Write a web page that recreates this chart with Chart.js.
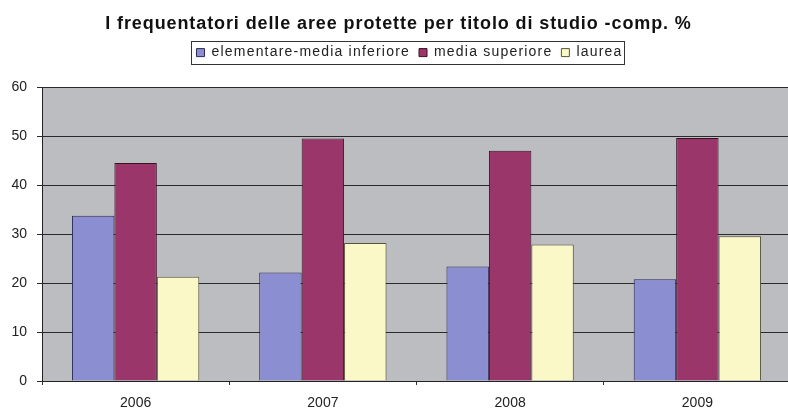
<!DOCTYPE html>
<html>
<head>
<meta charset="utf-8">
<script src="https://cdn.jsdelivr.net/npm/chart.js@4"></script>
<style>
  html, body { margin: 0; padding: 0; background: #fff; overflow: hidden; }
  #wrap { width: 792px; height: 411px; position: relative; }
</style>
</head>
<body>
<div id="wrap"><canvas id="chart"></canvas></div>
<script>
// data
const years = ['2006', '2007', '2008', '2009'];
const elementareMedia = [33.8, 22.2, 23.4, 20.8];
const mediaSuperiore = [44.6, 49.6, 47.1, 49.7];
const laurea = [21.3, 28.2, 27.9, 29.6];
const yTicks = [0, 10, 20, 30, 40, 50, 60];

const FONT = 'Arial, "Liberation Sans", sans-serif';
const LEGEND_SHIFT = 14; // legend sits a bit right of centre in the original

// run a box method with some letter spacing on the canvas
function spaced(box, name, spacing, shift) {
    const orig = box[name];
    box[name] = function () {
        const ctx = this.ctx || this.chart.ctx;
        const prev = ctx.letterSpacing;
        ctx.letterSpacing = spacing;
        if (shift) { ctx.save(); ctx.translate(shift, 0); }
        const res = orig.apply(this, arguments);
        if (shift) ctx.restore();
        ctx.letterSpacing = prev;
        return res;
    };
}

// grey plot background
const plotBg = {
    id: 'plotBg',
    beforeDraw(chart) {
        const { ctx, chartArea } = chart;
        ctx.save();
        ctx.fillStyle = '#bcbdc0';
        ctx.fillRect(chartArea.left, chartArea.top, chartArea.right - chartArea.left, chartArea.bottom - chartArea.top);
        ctx.restore();
    }
};

// wider text, extra room under the legend + frame around it
const legendTweak = {
    id: 'legendTweak',
    beforeInit(chart) {
        chart.ctx.letterSpacing = '1.5px';
        const origFit = chart.legend.fit;
        chart.legend.fit = function () {
            origFit.call(this);
            this.height += 18;
        };
        spaced(chart.legend, 'fit', '1.2px');
        spaced(chart.legend, 'draw', '1.2px', LEGEND_SHIFT);
        spaced(chart.titleBlock, 'draw', '0.9px', 3);
    },
    afterDraw(chart) {
        const boxes = chart.legend.legendHitBoxes;
        if (!boxes || !boxes.length) return;
        let l = Infinity, r = -Infinity, t = Infinity, b = -Infinity;
        boxes.forEach(h => {
            l = Math.min(l, h.left); r = Math.max(r, h.left + h.width);
            t = Math.min(t, h.top); b = Math.max(b, h.top + h.height);
        });
        l += LEGEND_SHIFT; r += LEGEND_SHIFT;
        const ctx = chart.ctx;
        ctx.save();
        ctx.strokeStyle = '#333';
        ctx.lineWidth = 1;
        ctx.strokeRect(Math.round(l - 5) + 0.5, Math.round(t - 5) + 0.5, Math.round(r - l + 7), Math.round(b - t + 9));
        ctx.restore();
    }
};

new Chart(document.getElementById('chart'), {
    type: 'bar',
    data: {
        labels: years,
        datasets: [
            { label: 'elementare-media inferiore', data: elementareMedia, backgroundColor: '#8b8ed0', borderColor: '#2a2a55', borderWidth: 1 },
            { label: 'media superiore', data: mediaSuperiore, backgroundColor: '#9a3669', borderColor: '#3a1025', borderWidth: 1 },
            { label: 'laurea', data: laurea, backgroundColor: '#fbf8c8', borderColor: '#55553a', borderWidth: 1 }
        ]
    },
    options: {
        responsive: true,
        maintainAspectRatio: false,
        animation: false,
        layout: { padding: { top: 4, right: 1, left: 0, bottom: 0 } },
        datasets: { bar: { barPercentage: 1, categoryPercentage: 0.68 } },
        plugins: {
            title: {
                display: true,
                text: 'I frequentatori delle aree protette per titolo di studio -comp. %',
                color: '#111',
                font: { family: FONT, size: 18, weight: 'bold' },
                padding: { top: 9, bottom: 2 }
            },
            legend: {
                display: true,
                position: 'top',
                labels: {
                    boxWidth: 8,
                    boxHeight: 8,
                    padding: 9,
                    color: '#222',
                    font: { family: FONT, size: 14 }
                }
            },
            tooltip: { enabled: false }
        },
        scales: {
            x: {
                grid: { display: true, drawOnChartArea: false, drawTicks: true, tickLength: 4, color: '#333', offset: true },
                border: { display: true, color: '#222', width: 1 },
                ticks: { color: '#222', padding: 10, font: { family: FONT, size: 14 } },
                afterFit(scale) { scale.height = 30; }
            },
            y: {
                min: 0,
                max: 60,
                afterBuildTicks(scale) { scale.ticks = yTicks.map(v => ({ value: v })); },
                grid: { color: '#2a2a2a', lineWidth: 1, drawTicks: true, tickLength: 5 },
                border: { display: true, color: '#222', width: 1 },
                ticks: { color: '#222', padding: 10, font: { family: FONT, size: 14 } },
                afterFit(scale) { scale.width = 42; }
            }
        }
    },
    plugins: [plotBg, legendTweak]
});
</script>
</body>
</html>
